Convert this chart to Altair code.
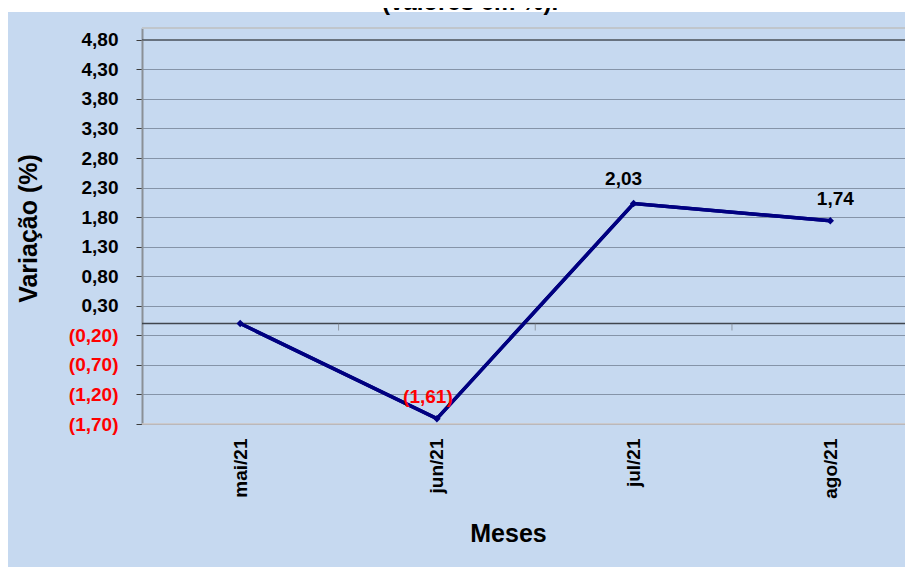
import altair as alt
import pandas as pd

# ---- data ----
TITLE = "(valores em %)."
months = ["mai/21", "jun/21", "jul/21", "ago/21"]
values = [0.00, -1.61, 2.03, 1.74]
y_ticks = [-1.7, -1.2, -0.7, -0.2, 0.3, 0.8, 1.3, 1.8, 2.3, 2.8, 3.3, 3.8, 4.3, 4.8]
y_domain = [-1.7, 5.0]


def fmt(v):
    s = f"{abs(v):.2f}".replace(".", ",")
    return f"({s})" if v < 0 else s


df = pd.DataFrame({"mes": months, "valor": values, "rotulo": [fmt(v) for v in values]})
one = pd.DataFrame({"t": [TITLE]})

BLUE = "#C6D9F0"
NAVY = "#000080"
FONT = "Liberation Sans"
W, H = 763, 396
STEP = 196.7

x_scale = alt.Scale(type="point", padding=0.4395, align=0.568)
y_scale = alt.Scale(domain=y_domain, nice=False, zero=False)

label_expr = (
    "datum.value < 0 ? '(' + replace(format(-datum.value, '.2f'), '.', ',') + ')'"
    " : replace(format(datum.value, '.2f'), '.', ',')"
)

x_enc = alt.X(
    "mes:N", sort=months, scale=x_scale,
    axis=alt.Axis(title="Meses", titleX=366, titleY=109, titleAlign="center",
                  titleBaseline="middle"),
)
y_enc = alt.Y(
    "valor:Q", scale=y_scale,
    axis=alt.Axis(
        title="Variação (%)", values=y_ticks, tickCount=len(y_ticks) + 6,
        labelExpr=label_expr, labelOverlap=False,
        labelColor={"condition": {"test": "datum.value < 0", "value": "#FF0000"}, "value": "#000000"},
        titleX=-114, titleY=200, titleAngle=270, titleAlign="center", titleBaseline="middle",
    ),
)

# white strip at the very top (reference is cropped there)
strip = alt.Chart(one).mark_rect(color="white").encode(
    x=alt.value(-134), x2=alt.value(W), y=alt.value(-20), y2=alt.value(-16)
)
title_txt = alt.Chart(one).mark_text(
    font=FONT, fontSize=24, fontWeight="bold", color="black", baseline="alphabetic", align="center"
).encode(text="t:N", x=alt.value(328), y=alt.value(-18))

top_border = alt.Chart(one).mark_rule(color="#C0C6CC", strokeWidth=2).encode(
    y=alt.datum(5.0), x=alt.value(0), x2=alt.value(W)
)
top_line = alt.Chart(one).mark_rule(color="#4A5058", strokeWidth=1.2).encode(
    y=alt.datum(4.8), x=alt.value(0), x2=alt.value(W)
)
bottom_line = alt.Chart(one).mark_rule(color="#CCC4C2", strokeWidth=1.5).encode(
    y=alt.datum(-1.7), x=alt.value(0), x2=alt.value(W)
)
zero_line = alt.Chart(one).mark_rule(color="#40464E", strokeWidth=1.3).encode(
    y=alt.datum(0), x=alt.value(0), x2=alt.value(W)
)
zero_ticks = alt.Chart(df.iloc[:3]).mark_tick(
    orient="vertical", size=7, thickness=1, color="#7A7F86", xOffset=STEP / 2, yOffset=3.5
).encode(x=alt.X("mes:N", sort=months, scale=x_scale), y=alt.datum(0))

line = alt.Chart(df).mark_line(color=NAVY, strokeWidth=3.5).encode(x=x_enc, y=y_enc)
pts = alt.Chart(df).mark_point(shape="diamond", filled=True, size=55, color=NAVY, opacity=1).encode(
    x=alt.X("mes:N", sort=months, scale=x_scale), y=alt.Y("valor:Q", scale=y_scale)
)


def label(mes, dx, dy):
    return alt.Chart(df).transform_filter(alt.datum.mes == mes).mark_text(
        font=FONT, fontSize=19, fontWeight="bold", baseline="middle", align="center", dx=dx, dy=dy
    ).encode(
        x=alt.X("mes:N", sort=months, scale=x_scale),
        y=alt.Y("valor:Q", scale=y_scale),
        text="rotulo:N",
        color=alt.condition(alt.datum.valor < 0, alt.value("#FF0000"), alt.value("#000000")),
    )


chart = alt.layer(
    line, strip, title_txt, top_border, top_line, bottom_line, zero_line, zero_ticks,
    line, pts,
    label("jun/21", -9, -22), label("jul/21", -10, -25), label("ago/21", 5, -22),
).properties(
    width=W, height=H, background=BLUE,
    autosize=alt.AutoSizeParams(type="none"),
    padding={"left": 134, "top": 20, "right": 0, "bottom": 143},
).configure_view(stroke=None).configure_axis(
    labelFont=FONT, titleFont=FONT, labelFontWeight="bold", titleFontWeight="bold",
    titleColor="black",
).configure_axisY(
    domainColor="#8A9096", domainWidth=2, tickColor="#3C3C3C", tickSize=6, tickWidth=1,
    labelFontSize=19, labelPadding=18, grid=True, gridColor="#8594A8", gridWidth=1,
    titleFontSize=25,
).configure_axisX(
    domain=False, ticks=False, tickSize=0, grid=False, labelAngle=270, labelFontSize=19,
    labelPadding=14, labelColor="black", titleFontSize=25,
)

chart.save("out.html", embed_options={"renderer": "svg", "actions": False})
